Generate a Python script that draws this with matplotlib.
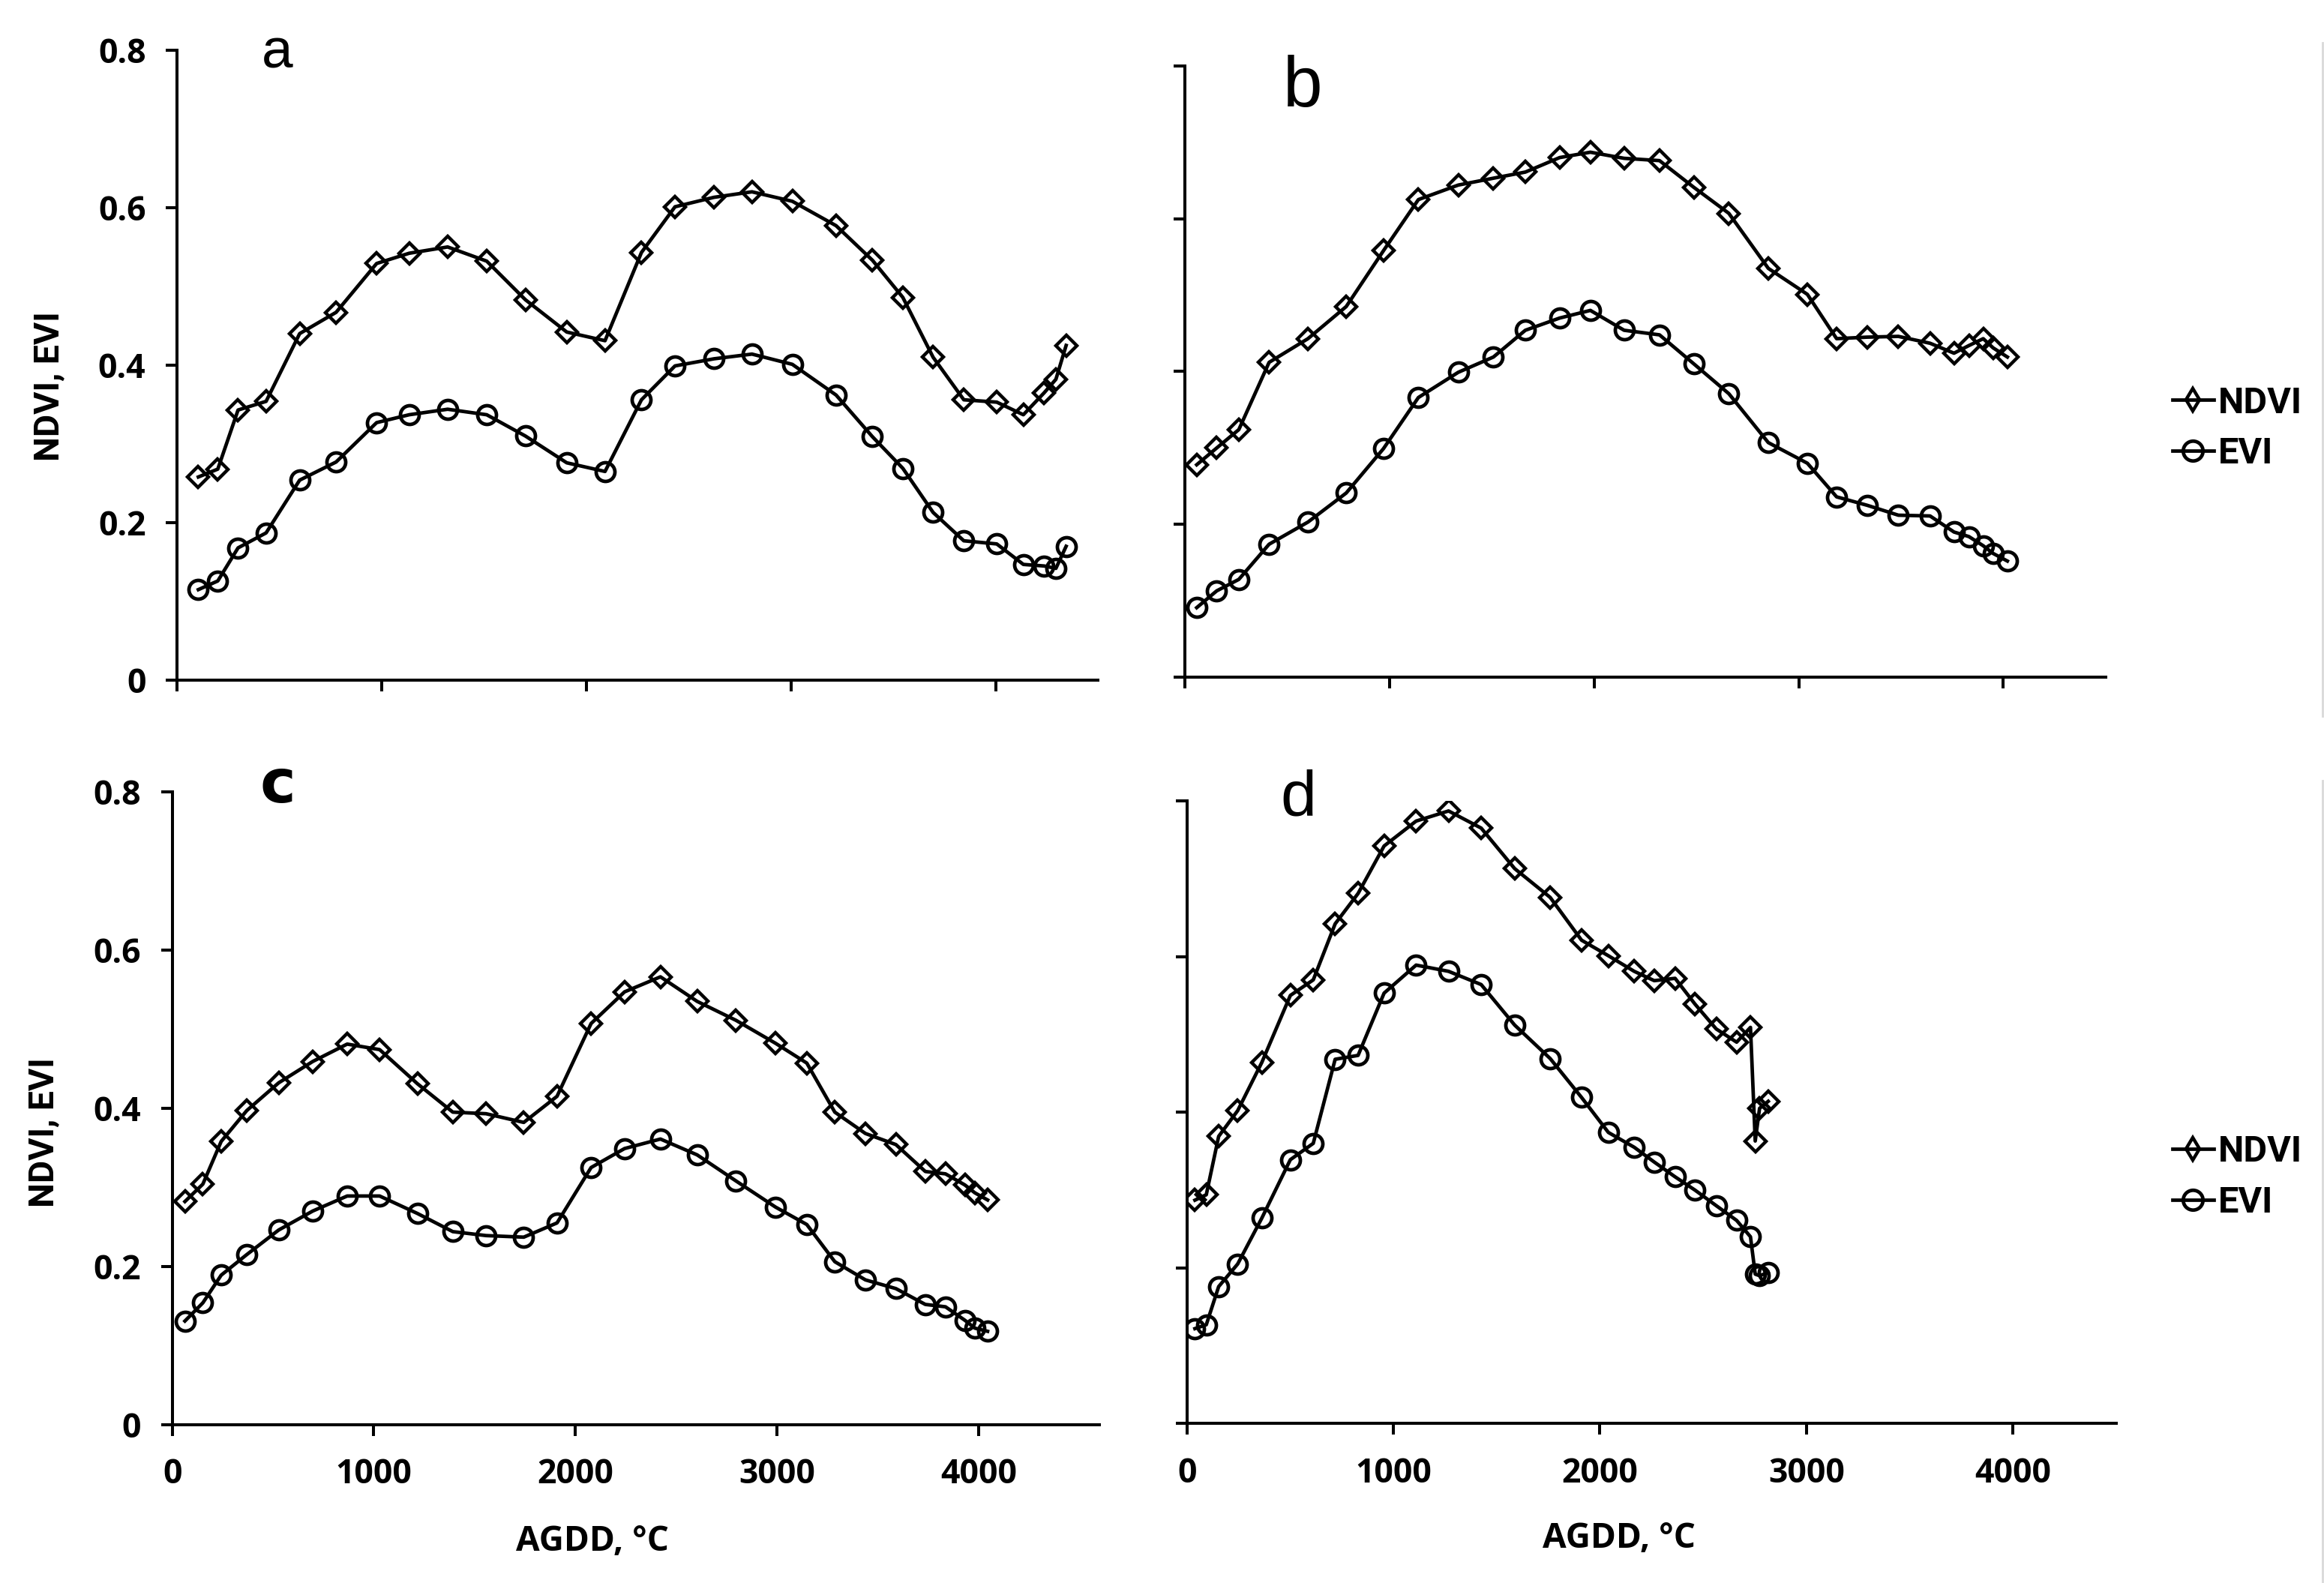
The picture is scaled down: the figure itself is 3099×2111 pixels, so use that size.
import numpy as np
import matplotlib.pyplot as plt
from matplotlib.lines import Line2D

plt.rcParams['font.family'] = ['Open Sans', 'DejaVu Sans']
plt.rcParams['font.weight'] = 'bold'
plt.rcParams['axes.labelweight'] = 'bold'

# AGDD (deg C) and index values
agdd_a = [105, 200, 299, 436, 600, 778, 976, 1135, 1323, 1514, 1703, 1905, 2092, 2270,
          2434, 2624, 2810, 3007, 3221, 3399, 3547, 3695, 3845, 4006, 4136, 4238, 4295, 4345]
ndvi_a = [0.258, 0.268, 0.343, 0.354, 0.440, 0.467, 0.529, 0.542, 0.550, 0.532, 0.483, 0.442, 0.431, 0.543,
          0.601, 0.613, 0.620, 0.608, 0.577, 0.533, 0.486, 0.410, 0.356, 0.353, 0.337, 0.365, 0.382, 0.425]
evi_a = [0.115, 0.126, 0.168, 0.187, 0.254, 0.277, 0.327, 0.337, 0.344, 0.337, 0.310, 0.276, 0.265, 0.356,
         0.399, 0.408, 0.414, 0.401, 0.362, 0.309, 0.269, 0.213, 0.177, 0.173, 0.147, 0.145, 0.142, 0.170]

agdd_b = [56, 154, 262, 410, 600, 787, 969, 1140, 1335, 1507, 1663, 1831, 1981, 2146,
          2319, 2487, 2658, 2851, 3042, 3185, 3334, 3487, 3642, 3759, 3832, 3902, 3950, 4020]
ndvi_b = [0.278, 0.300, 0.324, 0.412, 0.443, 0.485, 0.558, 0.625, 0.644, 0.653, 0.661, 0.680, 0.687, 0.679,
          0.676, 0.641, 0.607, 0.535, 0.501, 0.443, 0.445, 0.446, 0.437, 0.424, 0.434, 0.443, 0.431, 0.419]
evi_b = [0.091, 0.113, 0.128, 0.174, 0.203, 0.241, 0.299, 0.366, 0.399, 0.419, 0.454, 0.470, 0.480, 0.454,
         0.448, 0.410, 0.371, 0.307, 0.280, 0.236, 0.225, 0.212, 0.211, 0.190, 0.184, 0.172, 0.162, 0.152]

agdd_c = [63, 152, 243, 370, 528, 697, 868, 1029, 1216, 1392, 1557, 1744, 1909, 2078,
          2244, 2422, 2604, 2797, 2993, 3148, 3287, 3439, 3590, 3736, 3836, 3932, 3982, 4045]
ndvi_c = [0.282, 0.304, 0.358, 0.397, 0.432, 0.459, 0.481, 0.474, 0.431, 0.395, 0.393, 0.382, 0.415, 0.507,
          0.547, 0.566, 0.535, 0.511, 0.482, 0.457, 0.395, 0.368, 0.354, 0.320, 0.317, 0.303, 0.293, 0.284]
evi_c = [0.131, 0.154, 0.189, 0.215, 0.246, 0.270, 0.289, 0.289, 0.267, 0.244, 0.239, 0.237, 0.255, 0.325,
         0.349, 0.361, 0.341, 0.308, 0.275, 0.253, 0.206, 0.183, 0.172, 0.152, 0.149, 0.132, 0.122, 0.118]

agdd_d = [39, 94, 154, 246, 363, 501, 612, 718, 829, 955, 1110, 1267, 1425, 1587,
          1759, 1911, 2041, 2166, 2263, 2364, 2460, 2563, 2662, 2729, 2752, 2773, 2815]
ndvi_d = [0.287, 0.294, 0.369, 0.402, 0.464, 0.550, 0.570, 0.642, 0.681, 0.742, 0.774, 0.787, 0.765, 0.713,
          0.676, 0.621, 0.601, 0.581, 0.569, 0.572, 0.539, 0.507, 0.490, 0.509, 0.363, 0.405, 0.414]
evi_d = [0.122, 0.127, 0.176, 0.205, 0.264, 0.339, 0.360, 0.468, 0.473, 0.553, 0.589, 0.581, 0.564, 0.512,
         0.469, 0.419, 0.374, 0.355, 0.336, 0.317, 0.300, 0.280, 0.261, 0.240, 0.192, 0.190, 0.194]

x_ticks = [0, 1000, 2000, 3000, 4000]
y_ticks = [0, 0.2, 0.4, 0.6, 0.8]
y_tick_labels = ['0', '0.2', '0.4', '0.6', '0.8']

fig = plt.figure(figsize=(3099 / 200, 2111 / 200), dpi=200)


def draw_panel(rect, agdd, ndvi, evi, xmax, left_labels, bottom_labels):
    ax = fig.add_axes(rect)
    ax.plot(agdd, ndvi, color='black', lw=1.7, marker='D', ms=7.2, mfc='none', mew=1.6)
    ax.plot(agdd, evi, color='black', lw=1.7, marker='o', ms=9, mfc='none', mew=1.7)
    ax.set_xlim(0, xmax)
    ax.set_ylim(0, 0.8)
    ax.set_xticks(x_ticks)
    ax.set_yticks(y_ticks)
    ax.set_yticklabels(y_tick_labels)
    for side in ['top', 'right']:
        ax.spines[side].set_visible(False)
    for side in ['left', 'bottom']:
        ax.spines[side].set_linewidth(1.45)
    ax.tick_params(direction='out', length=5.4, width=1.45, labelsize=16)
    ax.tick_params(axis='x', pad=10.5, labelbottom=bottom_labels)
    ax.tick_params(axis='y', pad=9.5, labelleft=left_labels)
    return ax


ax_a = draw_panel([0.0761, 0.5703, 0.3963, 0.3981], agdd_a, ndvi_a, evi_a, 4500, True, False)
ax_b = draw_panel([0.5100, 0.5722, 0.3960, 0.3862], agdd_b, ndvi_b, evi_b, 4500, False, False)
ax_c = draw_panel([0.0741, 0.1000, 0.3990, 0.3999], agdd_c, ndvi_c, evi_c, 4600, True, True)
ax_d = draw_panel([0.5107, 0.1007, 0.3999, 0.3934], agdd_d, ndvi_d, evi_d, 4500, False, True)

# axis titles
for ax, ypos in [(ax_a, 0.4665), (ax_c, 0.462)]:
    ax.set_ylabel('NDVI, EVI', fontsize=16.7, fontweight='bold', family='Roboto')
    ax.yaxis.label.set_va('center')
    ax.yaxis.set_label_coords(-0.139, ypos)
for ax, xpos in [(ax_c, 0.453), (ax_d, 0.465)]:
    ax.set_xlabel('AGDD, °C', fontsize=16.5, fontweight='bold')
    ax.xaxis.label.set_va('center')
    ax.xaxis.set_label_coords(xpos, -0.184)

# panel letters
fig.text(0.1194, 0.9569, 'a', fontsize=27, fontweight='normal', family='Liberation Sans', ha='center')
fig.text(0.5605, 0.9327, 'b', fontsize=34, fontweight='normal', family='Liberation Sans', ha='center')
fig.text(0.1194, 0.4931, 'c', fontsize=29, fontweight='bold', family='DejaVu Sans', ha='center')
fig.text(0.5586, 0.4851, 'd', fontsize=31, fontweight='normal', family='Liberation Sans', ha='center')

# legends to the right of each row (legend keys use a taller diamond, as in the original)
ndvi_key = Line2D([], [], color='black', lw=1.7, marker='d', ms=7.5, mfc='none', mew=1.6, label='NDVI')
evi_key = Line2D([], [], color='black', lw=1.7, marker='o', ms=9.5, mfc='none', mew=1.7, label='EVI')
for ycen in [0.7293, 0.2563]:
    fig.legend(handles=[ndvi_key, evi_key], loc='center left', bbox_to_anchor=(0.9348, ycen),
               frameon=False, prop={'family': 'Roboto', 'weight': 'bold', 'size': 17.5},
               handlelength=1.13, handletextpad=0.12, labelspacing=0.45,
               borderpad=0, borderaxespad=0)

# faint border at the right edge of the pasted panels
fig.add_artist(Line2D([0.9993, 0.9993], [0.973, 0.5476], transform=fig.transFigure, color='#d9d9d9', lw=1))
fig.add_artist(Line2D([0.9993, 0.9993], [0.507, 0.0], transform=fig.transFigure, color='#d9d9d9', lw=1))

fig.savefig('out.png', dpi=200, facecolor='white')
